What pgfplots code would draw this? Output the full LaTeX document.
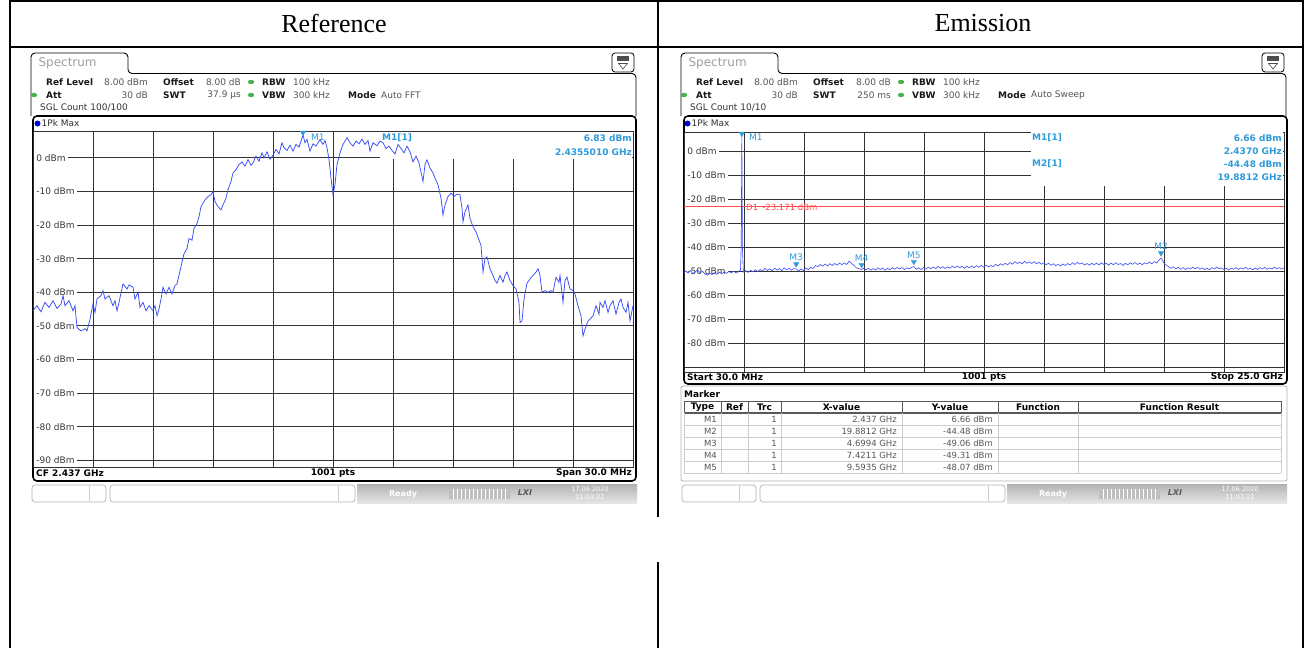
\documentclass[border=0pt]{standalone}
\usepackage{pgfplots}
\pgfplotsset{compat=1.18}
\usepackage{fontspec}
\setmainfont{Liberation Serif}
\newfontfamily\scrfont{DejaVu Sans}

\definecolor{trace}{HTML}{3A4DF5}
\definecolor{mk}{HTML}{2E9BDA}
\definecolor{gridc}{HTML}{333333}
\definecolor{dline}{HTML}{FF4B4B}
\definecolor{lbl}{HTML}{3A3A3A}
\definecolor{val}{HTML}{555555}
\definecolor{okgreen}{HTML}{4CB050}

\newcommand{\fs}[1]{\fontsize{#1}{#1}\selectfont}

\pgfplotsset{
  scr/.style={scale only axis, anchor=north west,
    ymin=-92, ymax=8, ytick={-90,-80,...,0},
    grid=major, grid style={draw=gridc, line width=0.8pt},
    axis line style={draw=gridc, line width=0.8pt},
    major tick length=0pt, xticklabels={}, yticklabels={}, clip=false},
}
\tikzset{
  ylab/.style={anchor=west, xshift=0.6pt, fill=white, inner xsep=2.6pt, inner ysep=1pt, text=lbl, font=\scrfont\fs{9}},
  hb/.style={anchor=west, inner sep=0pt, font=\scrfont\bfseries\fs{9}, text=black!90},
  hv/.style={anchor=west, inner sep=0pt, font=\scrfont\fs{9}, text=val},
  mkb/.style={inner sep=0pt, font=\scrfont\bfseries\fs{9}, text=mk},
  bt/.style={inner sep=0pt, font=\scrfont\bfseries\fs{9}},
  tb/.style={inner sep=0pt, font=\scrfont\fs{8.5}, text=val},
}

% common instrument header (drawn in a flipped scope, pixel coordinates)
\newcommand{\screenhead}[3]{%
  \draw[line width=0.9pt, rounded corners=4pt, fill=white]
    (31,116) -- (31,53) -- (128,53) -- (128,73.5) -- (636,73.5) -- (636,116);
  \node[anchor=west, text=gray!75, font=\scrfont\fs{12}] at (35,63) {Spectrum};
  \draw[line width=0.8pt, rounded corners=3pt, fill=white] (612,53) rectangle (634,72);
  \fill[gray!60!black] (617,56) rectangle (629,60.5);
  \draw[gray!60!black, line width=0.6pt] (618.5,63.5) -- (627.5,63.5) -- (623,69) -- cycle;
  \node[hb] at (46,82) {Ref Level};
  \node[hv, anchor=east] at (148,82) {8.00 dBm};
  \node[hb] at (163,82) {Offset};
  \node[hv, anchor=east] at (241,82) {8.00 dB};
  \fill[okgreen] (251,82) ellipse (3.2 and 2.2);
  \node[hb] at (262,82) {RBW};
  \node[hv] at (293,82) {100 kHz};
  \fill[okgreen] (34,95) ellipse (3.2 and 2.2);
  \node[hb] at (46,95) {Att};
  \node[hv, anchor=east] at (148,95) {30 dB};
  \node[hb] at (163,95) {SWT};
  \node[hv, anchor=east] at (241,95) {#1};
  \fill[okgreen] (251,95) ellipse (3.2 and 2.2);
  \node[hb] at (262,95) {VBW};
  \node[hv] at (293,95) {300 kHz};
  \node[hb] at (348,95) {Mode};
  \node[hv] at (381,95) {#2};
  \node[hv, text=black!80] at (40,108) {SGL Count #3};
}
\newcommand{\tracebar}{%
  \fill[blue!85!black] (37.5,123.5) circle (3);
  \node[anchor=west, inner sep=0pt, font=\scrfont\fs{9}, text=black!80] at (41.5,123.5) {1Pk Max};
}
\newcommand{\statusbar}{%
  \draw[gray!60, line width=0.7pt, rounded corners=3pt, fill=white] (32,485) rectangle (106,502);
  \draw[gray!40] (89,486) -- (89,501);
  \draw[gray!60, line width=0.7pt, rounded corners=3pt, fill=white] (110,485) rectangle (355,502);
  \draw[gray!40] (338,486) -- (338,501);
  \shade[top color=gray!60, bottom color=gray!20] (357,484) rectangle (637,503);
  \node[inner sep=0pt, font=\scrfont\bfseries\fs{8}, text=white] at (403,494) {Ready};
  \fill[gray!50] (449,489) rectangle (510,499);
  \foreach \k in {453,457,...,507} {\draw[white, line width=0.4pt] (\k,489) -- (\k,499);}
  \node[inner sep=0pt, font=\scrfont\bfseries\itshape\fs{8}, text=gray!70!black] at (525,493) {LXI};
  \node[inner sep=0pt, font=\scrfont\fs{6.5}, text=white] at (590,489) {17.06.2020};
  \node[inner sep=0pt, font=\scrfont\fs{6.5}, text=white] at (590,497) {11:03:22};
}

\begin{document}
\begin{tikzpicture}[x=1pt,y=1pt]
\begin{scope}[yscale=-1]
\useasboundingbox (0,0) rectangle (1313,648);
% document table
\draw[line width=1.2pt] (10,1) -- (1303,1);
\draw[line width=1.2pt] (10,0) -- (10,648);
\draw[line width=1.2pt] (1303,0) -- (1303,648);
\draw[line width=1.2pt] (10,47) -- (1303,47);
\draw[line width=1.2pt] (658,0) -- (658,517);
\draw[line width=1.2pt] (658,562) -- (658,648);
\node[font=\fs{26}] at (334,23) {Reference};
\node[font=\fs{26}] at (983,23) {Emission};
% left instrument screen
\screenhead{37.9 µs}{Auto FFT}{100/100}
\draw[line width=1.6pt, rounded corners=4pt, fill=white] (33,116) rectangle (636,481);
\tracebar
\statusbar
% right instrument screen
\begin{scope}[xshift=650pt]
\screenhead{250 ms}{Auto Sweep}{10/10}
\draw[line width=1.6pt, rounded corners=4pt, fill=white] (34,116) rectangle (637,384);
\tracebar
\draw[gray!60, line width=0.8pt, rounded corners=2pt, fill=white] (31,386) rectangle (637,481);
\statusbar
\end{scope}
\end{scope}

% left spectrum (offset from 2.437 GHz, MHz)
\begin{axis}[scr, at={(33pt,-131pt)}, width=600pt, height=336pt,
  xmin=-15, xmax=15, xtick={-12,-9,...,12}]
\fill[white] (axis cs:2.35,-0.2) rectangle (axis cs:14.93,7.8);
\pgfplotsinvokeforeach{0,-10,-20,-30,-40,-50,-60,-70,-80,-90}{
  \node[ylab] at (axis cs:-15,#1) {#1 dBm};}
\addplot[trace, line width=0.75pt] coordinates {
(-15.0,-45.5) (-14.8,-44) (-14.6,-45.8) (-14.4,-43) (-14.2,-44.5) (-14.0,-42.5)
(-13.8,-44.8) (-13.6,-43.5) (-13.5,-41) (-13.4,-44) (-13.2,-42.5) (-13.0,-45.5)
(-12.9,-44) (-12.8,-50.5) (-12.6,-51.5) (-12.4,-50.8) (-12.3,-51.5) (-12.15,-48)
(-12.0,-43.5) (-11.9,-46) (-11.8,-42) (-11.6,-41) (-11.5,-39.5) (-11.4,-42)
(-11.2,-41) (-11.0,-44) (-10.9,-42.5) (-10.8,-45.5) (-10.7,-43) (-10.5,-37.5)
(-10.3,-39) (-10.2,-37.8) (-10.0,-38.5) (-9.9,-42) (-9.75,-40) (-9.65,-44.5)
(-9.5,-43) (-9.35,-45.5) (-9.2,-44) (-9.0,-45.5) (-8.9,-44) (-8.8,-47)
(-8.7,-45) (-8.6,-42) (-8.5,-38.5) (-8.35,-40.5) (-8.2,-38.5) (-8.05,-40.5)
(-7.9,-38) (-7.8,-37.5) (-7.7,-35) (-7.55,-31) (-7.45,-28.5) (-7.3,-27)
(-7.2,-24) (-7.05,-24.5) (-6.95,-21) (-6.8,-19.5) (-6.7,-17.5) (-6.6,-14.5)
(-6.5,-13.5) (-6.4,-12.5) (-6.25,-11.5) (-6.1,-11) (-6.0,-10) (-5.9,-13)
(-5.75,-14.5) (-5.6,-15.5) (-5.5,-14) (-5.35,-12) (-5.25,-9.5) (-5.1,-7)
(-5.0,-4.5) (-4.85,-3.5) (-4.7,-2) (-4.55,-1.2) (-4.4,-2.5) (-4.25,-0.5)
(-4.1,-2.2) (-4.0,-1.5) (-3.85,0.5) (-3.7,-1) (-3.55,1.5) (-3.45,0)
(-3.3,1.8) (-3.15,-0.4) (-3.0,0.8) (-2.85,2.5) (-2.7,1.2) (-2.55,4.5)
(-2.45,3) (-2.3,2.2) (-2.15,3.8) (-2.0,2) (-1.85,4) (-1.7,3.2)
(-1.6,5) (-1.5,6.8) (-1.4,4.5) (-1.3,5.5) (-1.15,2) (-1.0,4.2)
(-0.85,3.5) (-0.65,5.4) (-0.5,4) (-0.4,5.2) (-0.3,3) (-0.2,-0.5)
(-0.1,-6) (0.0,-11) (0.1,-8) (0.2,-2) (0.35,1.5) (0.5,4)
(0.7,6) (0.85,4.5) (1.0,3.5) (1.15,5) (1.3,4.2) (1.45,5.6)
(1.6,4) (1.75,5.2) (1.85,2) (2.0,4.5) (2.2,3.6) (2.35,5)
(2.5,4.5) (2.65,2.8) (2.8,3.5) (2.95,2.2) (3.1,1.2) (3.25,4)
(3.4,2.8) (3.55,1.5) (3.7,3.5) (3.85,1.8) (4.0,-1.2) (4.15,0.5)
(4.3,-1.5) (4.5,-7) (4.6,-2) (4.7,-0.6) (4.85,-3) (5.0,-4.5)
(5.1,-6) (5.25,-8) (5.4,-12) (5.5,-17) (5.6,-14) (5.75,-11.5)
(5.9,-10.5) (6.05,-11.5) (6.2,-10.8) (6.35,-11) (6.45,-15) (6.5,-19)
(6.6,-16) (6.75,-14) (6.85,-18) (7.0,-20.5) (7.15,-22) (7.3,-24.5)
(7.4,-26) (7.5,-34) (7.6,-30) (7.7,-29.5) (7.85,-33) (8.0,-35)
(8.1,-36.5) (8.2,-37.3) (8.35,-35) (8.5,-37) (8.6,-35) (8.7,-34)
(8.85,-36.5) (9.0,-38) (9.15,-39) (9.3,-43) (9.35,-49) (9.45,-48.5)
(9.55,-42) (9.7,-37.3) (9.85,-36) (10.0,-35) (10.15,-34) (10.25,-33)
(10.35,-35) (10.45,-40) (10.6,-39.5) (10.75,-40) (10.9,-39.5) (11.0,-40)
(11.15,-35.5) (11.3,-37) (11.35,-35) (11.5,-43) (11.6,-36.5) (11.7,-35.5)
(11.85,-39) (12.0,-39.5) (12.1,-40.5) (12.25,-44) (12.4,-47) (12.5,-53)
(12.6,-51) (12.75,-48.5) (12.85,-48) (13.0,-47) (13.15,-44) (13.3,-46.5)
(13.35,-43) (13.5,-44.5) (13.6,-42.5) (13.75,-46) (13.85,-44) (14.0,-42.5)
(14.15,-46.5) (14.3,-43) (14.4,-42) (14.5,-44.5) (14.65,-46) (14.75,-43)
(14.85,-48.5) (15.0,-44)
};
\addplot[only marks, mark=triangle*, mark size=3pt, mark options={rotate=180, fill=mk, draw=mk}]
  coordinates {(-1.5,7.5)};
\end{axis}

% right spectrum (GHz)
\begin{axis}[scr, at={(684pt,-132pt)}, width=600pt, height=240pt,
  xmin=0.03, xmax=25,
  xtick={2.527,5.024,7.521,10.018,12.515,15.012,17.509,20.006,22.503}]
\fill[white] (axis cs:14.45,-14.6) rectangle (axis cs:24.95,7.8);
\pgfplotsinvokeforeach{0,-10,-20,-30,-40,-50,-60,-70,-80}{
  \node[ylab] at (axis cs:0.03,#1) {#1 dBm};}
\addplot[dline, line width=0.8pt] coordinates {(0.03,-23.171) (25,-23.171)};
\addplot[trace, line width=0.6pt] coordinates {
(0.03,-50.6) (0.1,-49.9) (0.2,-50.8) (0.3,-49.7) (0.4,-51.0) (0.5,-50.2) (0.6,-49.5)
(0.7,-50.7) (0.8,-50.0) (0.9,-51.2) (1.0,-51.6) (1.1,-50.9) (1.2,-51.4) (1.3,-50.6)
(1.4,-51.3) (1.5,-50.4) (1.6,-51.0) (1.7,-50.3) (1.8,-50.9) (1.9,-50.1) (2.0,-50.7)
(2.1,-50.0) (2.2,-50.8) (2.3,-50.2) (2.38,-49.5) (2.41,-40) (2.437,6.66) (2.46,-40)
(2.5,-50.4) (2.6,-49.8) (2.7,-50.5) (2.8,-49.6) (2.9,-50.3) (3.0,-49.4) (3.1,-50.1)
(3.2,-49.3) (3.3,-50.0) (3.4,-48.8) (3.5,-49.7) (3.6,-49.0) (3.7,-49.8) (3.8,-48.7)
(3.9,-49.5) (4.0,-48.9) (4.1,-49.8) (4.2,-48.6) (4.3,-49.4) (4.4,-48.8) (4.5,-49.6)
(4.6,-48.9) (4.6994,-49.06) (4.8,-49.9) (4.9,-49.1) (5.0,-49.7) (5.1,-48.6) (5.2,-49.4)
(5.3,-48.3) (5.4,-48.9) (5.5,-47.6) (5.6,-48.1) (5.7,-47.2) (5.8,-47.9) (5.9,-47.0)
(6.0,-47.8) (6.1,-46.9) (6.2,-47.6) (6.3,-46.8) (6.4,-47.5) (6.5,-46.6) (6.6,-47.3)
(6.7,-46.5) (6.8,-47.2) (6.9,-45.8) (7.0,-46.7) (7.1,-47.6) (7.2,-48.6) (7.3,-48.9)
(7.4211,-49.31) (7.5,-48.7) (7.6,-49.4) (7.7,-48.8) (7.8,-49.6) (7.9,-48.9) (8.0,-49.5)
(8.1,-48.6) (8.2,-49.3) (8.3,-48.7) (8.4,-49.6) (8.5,-48.8) (8.6,-49.4) (8.7,-48.5)
(8.8,-49.2) (8.9,-48.4) (9.0,-49.1) (9.1,-48.5) (9.2,-49.3) (9.3,-48.6) (9.4,-49.0)
(9.5,-48.4) (9.5935,-48.07) (9.7,-49.2) (9.8,-48.6) (9.9,-49.3) (10.0,-48.5) (10.1,-49.1)
(10.2,-48.3) (10.3,-49.0) (10.4,-48.2) (10.5,-48.9) (10.6,-48.0) (10.7,-48.8) (10.8,-48.1)
(10.9,-48.9) (11.0,-48.2) (11.1,-48.7) (11.2,-47.9) (11.3,-48.6) (11.4,-47.8) (11.5,-48.5)
(11.6,-48.0) (11.7,-48.8) (11.8,-47.9) (11.9,-48.6) (12.0,-47.8) (12.1,-48.5) (12.2,-47.7)
(12.3,-48.4) (12.4,-47.6) (12.5,-48.3) (12.6,-47.5) (12.7,-48.2) (12.8,-47.6) (12.9,-48.1)
(13.0,-47.2) (13.1,-47.8) (13.2,-46.9) (13.3,-47.5) (13.4,-46.7) (13.5,-47.3) (13.6,-46.4)
(13.7,-47.1) (13.8,-46.0) (13.9,-46.8) (14.0,-46.2) (14.1,-46.9) (14.2,-45.9) (14.3,-46.7)
(14.4,-46.1) (14.5,-46.8) (14.6,-46.0) (14.7,-46.9) (14.8,-46.3) (14.9,-47.1) (15.0,-46.6)
(15.1,-47.3) (15.2,-46.7) (15.3,-47.5) (15.4,-46.9) (15.5,-47.7) (15.6,-47.1) (15.7,-47.8)
(15.8,-47.0) (15.9,-47.6) (16.0,-46.8) (16.1,-47.4) (16.2,-46.5) (16.3,-47.2) (16.4,-46.3)
(16.5,-47.0) (16.6,-46.6) (16.7,-47.4) (16.8,-46.8) (16.9,-47.5) (17.0,-46.7) (17.1,-47.3)
(17.2,-46.6) (17.3,-47.4) (17.4,-46.5) (17.5,-47.2) (17.6,-46.7) (17.7,-47.5) (17.8,-46.6)
(17.9,-47.3) (18.0,-46.5) (18.1,-47.2) (18.2,-46.8) (18.3,-47.6) (18.4,-46.7) (18.5,-47.3)
(18.6,-46.5) (18.7,-47.1) (18.8,-46.4) (18.9,-47.2) (19.0,-46.6) (19.1,-47.3) (19.2,-46.5)
(19.3,-47.0) (19.4,-46.2) (19.5,-46.9) (19.6,-46.0) (19.7,-46.6) (19.8,-45.3) (19.8812,-44.48)
(19.95,-45.6) (20.0,-46.6) (20.1,-47.4) (20.2,-48.2) (20.3,-48.8) (20.4,-48.2) (20.5,-49.0)
(20.6,-48.4) (20.7,-49.2) (20.8,-48.5) (20.9,-49.3) (21.0,-48.6) (21.1,-49.1) (21.2,-48.3)
(21.3,-49.0) (21.4,-48.4) (21.5,-49.2) (21.6,-48.6) (21.7,-49.3) (21.8,-48.7) (21.9,-49.4)
(22.0,-48.5) (22.1,-49.1) (22.2,-48.3) (22.3,-49.0) (22.4,-48.6) (22.5,-49.3) (22.6,-48.8)
(22.7,-49.5) (22.8,-48.7) (22.9,-49.2) (23.0,-48.5) (23.1,-49.3) (23.2,-48.6) (23.3,-49.1)
(23.4,-48.4) (23.5,-49.2) (23.6,-48.7) (23.7,-49.4) (23.8,-48.6) (23.9,-49.3) (24.0,-48.5)
(24.1,-49.0) (24.2,-48.4) (24.3,-49.2) (24.4,-48.6) (24.5,-49.1) (24.6,-48.3) (24.7,-49.0)
(24.8,-48.5) (24.9,-49.1) (25.0,-48.6)
};
\addplot[only marks, mark=triangle*, mark size=3pt, mark options={rotate=180, fill=mk, draw=mk},
  nodes near coords, point meta=explicit symbolic,
  every node near coord/.style={font=\scrfont\fs{9}, text=mk, anchor=south, inner sep=1pt, yshift=2pt}]
  coordinates {(4.6994,-47.06)[M3] (7.4211,-47.31)[M4] (9.5935,-46.07)[M5] (19.8812,-42.48)[M2]};
\addplot[only marks, mark=triangle*, mark size=3pt, mark options={rotate=180, fill=mk, draw=mk}]
  coordinates {(2.437,7.3)};
\end{axis}

\begin{scope}[yscale=-1]
% left overlay texts
\node[mkb, font=\scrfont\fs{9}, anchor=west] at (311,137) {M1};
\node[mkb, anchor=west] at (382,138) {M1[1]};
\node[mkb, anchor=east] at (632,138) {6.83 dBm};
\node[mkb, anchor=east] at (632,152) {2.4355010 GHz};
\node[bt, anchor=west] at (36,473) {CF 2.437 GHz};
\node[bt] at (333,473) {1001 pts};
\node[bt, anchor=east] at (632,473) {Span 30.0 MHz};
% right overlay texts
\node[mkb, font=\scrfont\fs{9}, anchor=west] at (749,137) {M1};
\node[mkb, anchor=west] at (1032,138) {M1[1]};
\node[mkb, anchor=west] at (1032,164) {M2[1]};
\node[mkb, anchor=east] at (1282,138) {6.66 dBm};
\node[mkb, anchor=east] at (1282,151) {2.4370 GHz};
\node[mkb, anchor=east] at (1282,164) {-44.48 dBm};
\node[mkb, anchor=east] at (1282,177) {19.8812 GHz};
\node[anchor=west, inner sep=0pt, font=\scrfont\fs{8.5}, text=dline] at (746,207) {D1\enspace-23.171 dBm};
\node[bt, anchor=west] at (687,377) {Start 30.0 MHz};
\node[bt] at (984,377) {1001 pts};
\node[bt, anchor=east] at (1283,377) {Stop 25.0 GHz};
% marker table
\node[bt, anchor=west] at (684,394) {Marker};
\foreach \yy in {425,437,449,461,473} {\draw[gray!40, line width=0.6pt] (684,\yy) -- (1281,\yy);}
\draw[gray!70!black, line width=0.7pt] (684,401) -- (1281,401);
\draw[gray!70!black, line width=1.1pt] (684,413) -- (1281,413);
\foreach \xx in {684,721,748,781,902,998,1078,1281} {
  \draw[gray!70!black, line width=0.7pt] (\xx,401) -- (\xx,413);
  \draw[gray!40, line width=0.6pt] (\xx,413) -- (\xx,473);}
\node[bt] at (702.5,407) {Type};
\node[bt] at (734.5,407) {Ref};
\node[bt] at (764.5,407) {Trc};
\node[bt] at (841.5,407) {X-value};
\node[bt] at (950,407) {Y-value};
\node[bt] at (1038,407) {Function};
\node[bt] at (1179.5,407) {Function Result};
\foreach \r/\m/\xv/\yv in {0/M1/2.437 GHz/6.66 dBm, 1/M2/19.8812 GHz/-44.48 dBm,
    2/M3/4.6994 GHz/-49.06 dBm, 3/M4/7.4211 GHz/-49.31 dBm, 4/M5/9.5935 GHz/-48.07 dBm} {
  \pgfmathsetmacro{\yc}{419+12*\r}
  \node[tb, anchor=east] at (717,\yc) {\m};
  \node[tb, anchor=east] at (777,\yc) {1};
  \node[tb, anchor=east] at (897,\yc) {\xv};
  \node[tb, anchor=east] at (993,\yc) {\yv};
}
\end{scope}
\end{tikzpicture}
\end{document}
